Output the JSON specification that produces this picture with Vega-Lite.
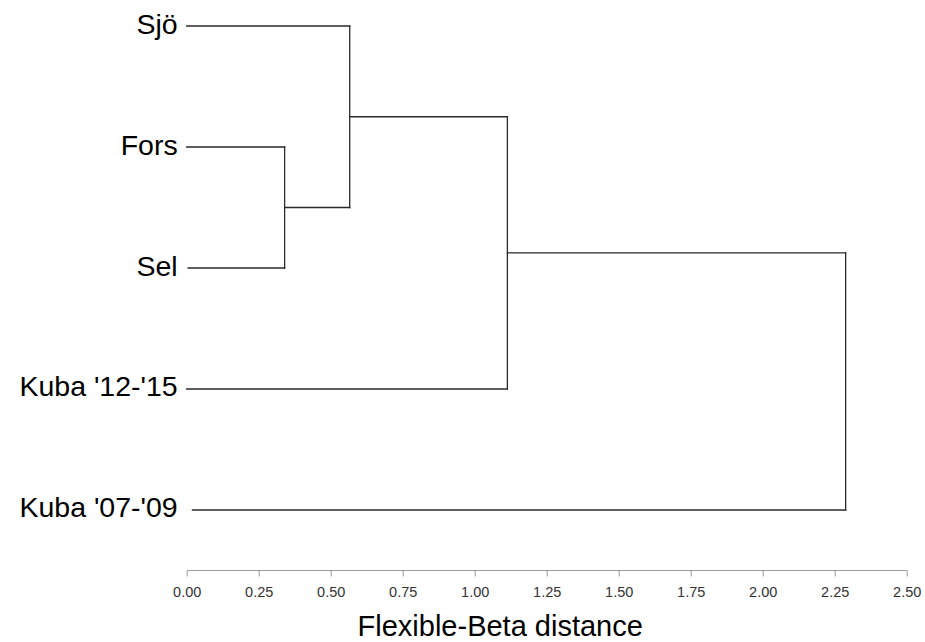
{
  "$schema": "https://vega.github.io/schema/vega-lite/v6.json",
  "autosize": {"type": "none"},
  "padding": {"left": 186.7, "top": 0, "right": 18.3, "bottom": 72},
  "width": 720,
  "height": 570,
  "background": "white",
  "config": {"view": {"stroke": null}, "font": "Liberation Sans"},
  "datasets": {
    "segments": [
      {"x": 0, "x2": 0.566, "y": 1, "y2": 1},
      {"x": 0, "x2": 0.34, "y": 2, "y2": 2},
      {"x": 0.005, "x2": 0.34, "y": 3, "y2": 3},
      {"x": 0, "x2": 1.1135, "y": 4, "y2": 4},
      {"x": 0.02, "x2": 2.288, "y": 5, "y2": 5},
      {"x": 0.34, "x2": 0.34, "y": 2, "y2": 3},
      {"x": 0.566, "x2": 0.566, "y": 1, "y2": 2.5},
      {"x": 1.1135, "x2": 1.1135, "y": 1.75, "y2": 4},
      {"x": 2.288, "x2": 2.288, "y": 2.875, "y2": 5},
      {"x": 0.34, "x2": 0.566, "y": 2.5, "y2": 2.5},
      {"x": 0.566, "x2": 1.1135, "y": 1.75, "y2": 1.75},
      {"x": 1.1135, "x2": 2.288, "y": 2.875, "y2": 2.875}
    ],
    "leaves": [
      {"label": "Sjö", "x": 0, "y": 1},
      {"label": "Fors", "x": 0, "y": 2},
      {"label": "Sel", "x": 0, "y": 3},
      {"label": "Kuba '12-'15", "x": 0, "y": 4},
      {"label": "Kuba '07-'09", "x": 0, "y": 5}
    ]
  },
  "layer": [
    {
      "data": {"name": "segments"},
      "mark": {"type": "rule", "color": "#2a2a2a", "strokeWidth": 1.3, "strokeCap": "square", "clip": false},
      "encoding": {
        "x": {
          "field": "x", "type": "quantitative",
          "scale": {"domain": [0, 2.5], "nice": false, "zero": false},
          "axis": {
            "title": "Flexible-Beta distance",
            "values": [0, 0.25, 0.5, 0.75, 1, 1.25, 1.5, 1.75, 2, 2.25, 2.5],
            "format": ".2f",
            "grid": false,
            "domainColor": "#999999",
            "tickColor": "#999999",
            "tickSize": 6,
            "labelFontSize": 14.5,
            "labelColor": "#333333",
            "labelFont": "Liberation Sans",
            "labelBaseline": "alphabetic",
            "labelPadding": 20,
            "labelFlush": false,
            "titleFontSize": 29,
            "titleFontWeight": "normal",
            "titleColor": "#000000",
            "titleFont": "Liberation Sans",
            "titleX": 313,
            "titleY": 65,
            "titleAlign": "center",
            "titleBaseline": "alphabetic"
          }
        },
        "x2": {"field": "x2"},
        "y": {
          "field": "y", "type": "quantitative",
          "scale": {"domain": [0.785, 5.496], "reverse": true, "nice": false, "zero": false},
          "axis": null
        },
        "y2": {"field": "y2"}
      }
    },
    {
      "data": {"name": "leaves"},
      "mark": {"type": "text", "align": "right", "baseline": "alphabetic", "dx": -9, "dy": 7.5, "fontSize": 28.5, "color": "#000000", "font": "Liberation Sans", "clip": false},
      "encoding": {
        "x": {"field": "x", "type": "quantitative"},
        "y": {"field": "y", "type": "quantitative"},
        "text": {"field": "label"}
      }
    }
  ]
}
